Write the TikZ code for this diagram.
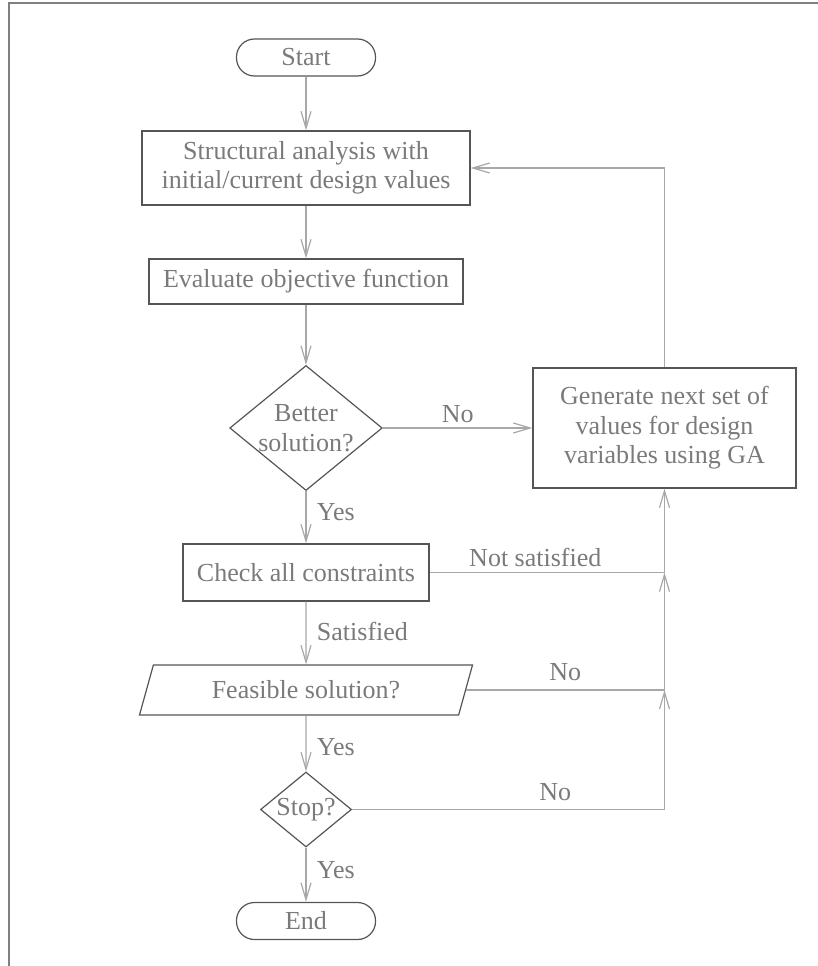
\documentclass[tikz,border=0pt]{standalone}
\usepackage{fontspec}
\setmainfont{Liberation Serif}
\usepackage{xcolor}
\usepackage{tikz}
\usetikzlibrary{calc}
\usetikzlibrary{shapes.geometric}
\usetikzlibrary{arrows.meta}
\definecolor{boxgray}{HTML}{555555}
\definecolor{textgray}{HTML}{7A7A7A}
\definecolor{linegray}{HTML}{A8A8A8}
\newcommand{\flowsize}{\fontsize{26}{29.5}\selectfont}

\begin{document}
\begin{tikzpicture}[x=1pt, y=-1pt,
  every node/.style={font=\flowsize, text=textgray},
  terminal/.style={draw=boxgray, line width=1.2pt, rectangle, rounded corners=18pt,
    minimum width=139pt, minimum height=37pt, inner sep=0pt},
  process/.style={draw=boxgray, line width=1.2pt, rectangle, align=center, inner sep=0pt},
  decision/.style={draw=boxgray, line width=1.2pt, diamond, align=center, inner sep=0pt},
  inout/.style={draw=boxgray, line width=1.2pt, trapezium, trapezium left angle=53,
    trapezium right angle=127, trapezium stretches body, inner sep=0pt},
  flow/.style={draw=linegray, line width=1.2pt, -{Straight Barb[length=17pt, width=10pt]}},
  link/.style={draw=linegray, line width=1.2pt},
  lbl/.style={right, xshift=7pt},
  frame/.style={draw=gray, line width=1.6pt}]
\useasboundingbox (0,0) rectangle (818,966);
\draw[frame] (9,966) -- (9,3) -- (818,3);

% main column
\node[terminal] (start) at (306,57.5) {Start};
\node[process, minimum width=328pt, minimum height=74pt] (analysis) at (306,168)
  {Structural analysis with\\initial/current design values};
\node[process, minimum width=314pt, minimum height=45pt] (evaluate) at (306,281.5)
  {Evaluate objective function};
\node[decision, aspect=1.22, minimum width=151pt, minimum height=124pt] (better) at (306,428)
  {Better\\solution?};
\node[process, minimum width=246pt, minimum height=57pt] (check) at (306,572.5)
  {Check all constraints};
\node[inout, minimum width=333pt, minimum height=50pt] (feasible) at (306,690)
  {Feasible solution?};
\node[decision, aspect=1.21, minimum width=91pt, minimum height=75pt] (stop) at (306,809.5)
  {Stop?};
\node[terminal] (end) at (306,921) {End};

% right column
\node[process, minimum width=263pt, minimum height=120pt] (ga) at (664.5,428)
  {Generate next set of\\values for design\\variables using GA};

\coordinate (j1) at (ga.south |- check.east);
\coordinate (j2) at (ga.south |- feasible.east);
\coordinate (j3) at (ga.south |- stop.east);

\draw[flow] (start) -- (analysis);
\draw[flow] (analysis) -- (evaluate);
\draw[flow] (evaluate) -- (better);
\draw[flow] (better) -- node[pos=0.41, lbl] {Yes} (check);
\draw[flow] (check) -- node[pos=0.48, lbl] {Satisfied} (feasible);
\draw[flow] (feasible) -- node[pos=0.56, lbl] {Yes} (stop);
\draw[flow] (stop) -- node[pos=0.42, lbl] {Yes} (end);
\draw[flow] (better) -- node[above=1pt] {No} (ga);

\draw[link] (check) -- node[pos=0.45, above=2pt] {Not satisfied} (j1);
\draw[link] (feasible.east) -- node[above=5pt] {No} (j2);
\draw[link] (stop) -- node[pos=0.65, above=5pt] {No} (j3);
\draw[flow] (j1) -- (ga.south);
\draw[flow] (j2) -- (j1);
\draw[flow] (j3) -- (j2);
\draw[flow] (ga.north) |- (analysis.east);
\end{tikzpicture}
\end{document}
